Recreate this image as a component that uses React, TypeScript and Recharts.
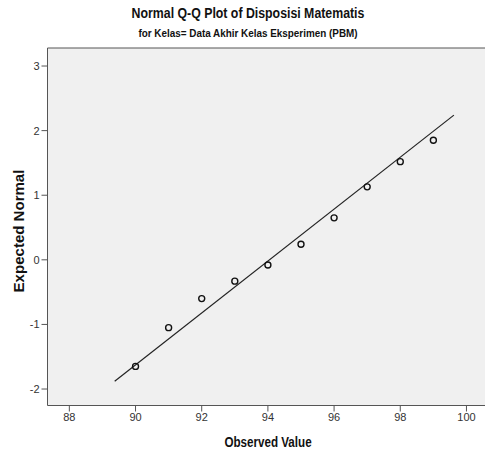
import React from 'react'
import {
  CartesianGrid,
  ReferenceLine,
  Scatter,
  ScatterChart,
  XAxis,
  YAxis,
} from 'recharts'

// observed scores and their expected normal quantiles
const observed = [90, 91, 92, 93, 94, 95, 96, 97, 98, 99]
const expectedNormal = [-1.65, -1.05, -0.6, -0.33, -0.08, 0.24, 0.65, 1.13, 1.52, 1.85]

// reference line end points
const lineX = [89.37, 99.62]
const lineY = [-1.88, 2.24]

const xTicks = [88, 90, 92, 94, 96, 98, 100]
const yTicks = [-2, -1, 0, 1, 2, 3]

const points = observed.map((x, i) => ({ x, y: expectedNormal[i] }))

const FONT = '"Liberation Sans", Arial, sans-serif'
const X_DOMAIN: [number, number] = [87.34, 100.56]
const Y_DOMAIN: [number, number] = [-2.255, 3.279]

const Ring = (props: any) => {
  const { cx, cy } = props
  if (cx == null || cy == null) return null
  return <circle cx={cx} cy={cy} r={3} fill="none" stroke="#111" strokeWidth={1.4} />
}

// centred bold text, squeezed horizontally to a narrow face
const Caption = ({ text, x, y, size, squeeze, rotate = 0 }: any) => (
  <div
    style={{
      position: 'absolute',
      left: x,
      top: y,
      zIndex: 2,
      whiteSpace: 'nowrap',
      fontFamily: FONT,
      fontWeight: 'bold',
      fontSize: size,
      lineHeight: 1,
      color: '#111',
      transform: `translate(-50%, -50%) rotate(${rotate}deg) scaleX(${squeeze})`,
    }}
  >
    {text}
  </div>
)

export default function App() {
  return (
    <div style={{ position: 'absolute', top: 0, left: 0, width: 485, height: 455, background: '#fff' }}>
      <Caption text="Normal Q-Q Plot of Disposisi Matematis" x={248} y={13} size={14} squeeze={0.88} />
      <Caption text="for Kelas= Data Akhir Kelas Eksperimen (PBM)" x={248} y={34} size={11.5} squeeze={0.86} />
      <Caption text="Expected Normal" x={18.5} y={231} size={15.5} squeeze={0.97} rotate={-90} />
      <Caption text="Observed Value" x={268} y={441.5} size={14} squeeze={0.83} />
      <ScatterChart width={485} height={455} margin={{ top: 48, right: 0, bottom: 0, left: 0 }}>
        <CartesianGrid fill="#f0f0f0" horizontal={false} vertical={false} />
        <XAxis
          type="number"
          dataKey="x"
          domain={X_DOMAIN}
          ticks={xTicks}
          allowDataOverflow
          height={49.5}
          axisLine={{ stroke: '#555' }}
          tickLine={{ stroke: '#555' }}
          tickSize={6}
          tick={{ fontSize: 11, fill: '#333', fontFamily: FONT }}
        />
        <YAxis
          type="number"
          dataKey="y"
          domain={Y_DOMAIN}
          ticks={yTicks}
          allowDataOverflow
          width={47.5}
          axisLine={{ stroke: '#555' }}
          tickLine={{ stroke: '#555' }}
          tickSize={6}
          tick={{ fontSize: 11, fill: '#333', fontFamily: FONT }}
        />
        <ReferenceLine y={Y_DOMAIN[1]} stroke="#555" ifOverflow="visible" />
        <ReferenceLine
          segment={[{ x: lineX[0], y: lineY[0] }, { x: lineX[1], y: lineY[1] }]}
          stroke="#222"
          strokeWidth={1.2}
          ifOverflow="visible"
        />
        <Scatter data={points} shape={Ring} isAnimationActive={false} />
      </ScatterChart>
    </div>
  )
}
